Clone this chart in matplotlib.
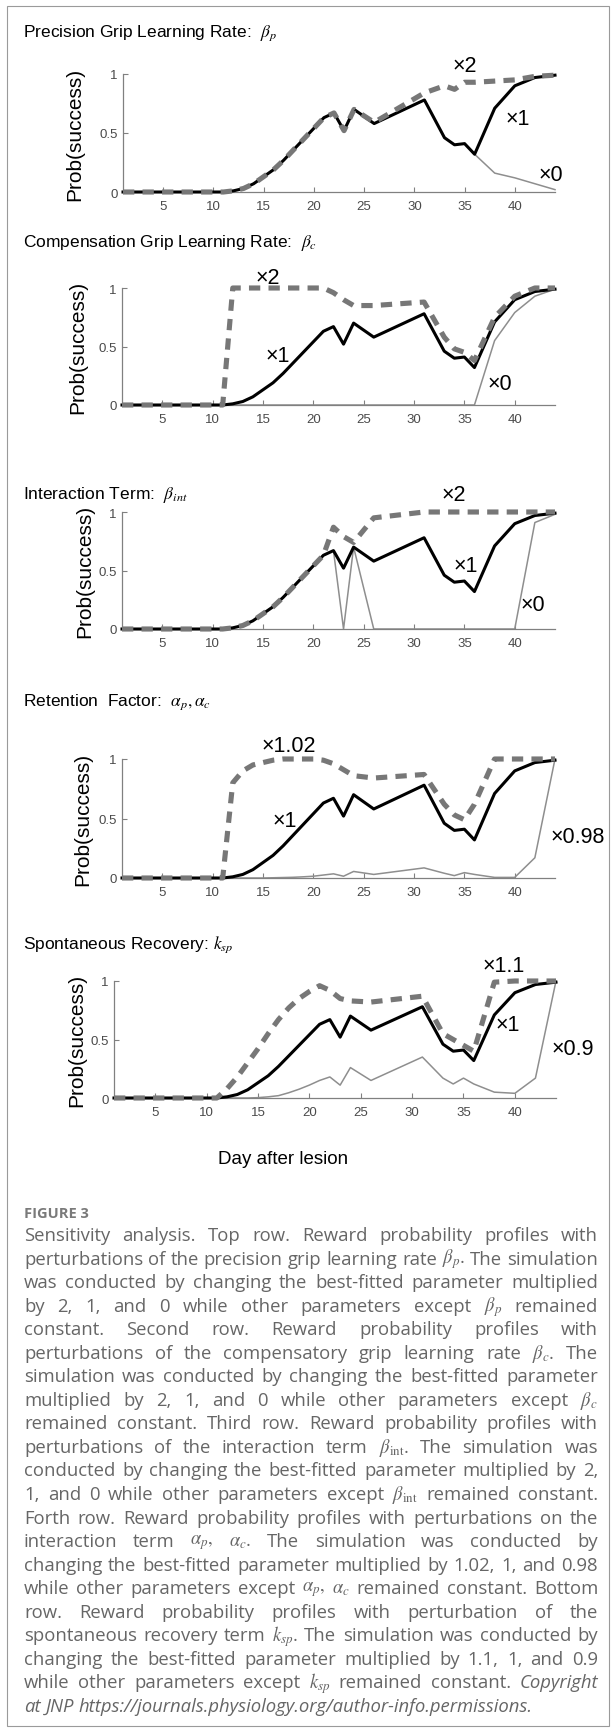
import matplotlib
matplotlib.use("Agg")
import matplotlib.pyplot as plt
from matplotlib.patches import Rectangle

plt.rcParams["font.family"] = ["Liberation Sans", "DejaVu Sans"]
plt.rcParams["mathtext.fontset"] = "stix"

# --- Data ---
days = [1, 2, 3, 4, 5, 6, 7, 8, 9, 10, 11, 12, 13, 14, 15, 16, 17, 18, 19, 20,
        21, 22, 23, 24, 26, 31, 33, 34, 35, 36, 38, 40, 42, 44]

fitted = [0, 0, 0, 0, 0, 0, 0, 0, 0, 0, 0, 0.01, 0.03, 0.07, 0.13, 0.19, 0.27,
          0.36, 0.45, 0.54, 0.63, 0.67, 0.52, 0.70, 0.58, 0.78, 0.46, 0.40,
          0.41, 0.32, 0.71, 0.90, 0.97, 0.99]

bp_high = [0, 0, 0, 0, 0, 0, 0, 0, 0, 0, 0, 0.01, 0.03, 0.07, 0.13, 0.19, 0.27,
           0.36, 0.45, 0.54, 0.63, 0.67, 0.52, 0.70, 0.59, 0.84, 0.90, 0.87,
           0.93, 0.93, 0.94, 0.95, 0.98, 0.99]
bp_low = [0, 0, 0, 0, 0, 0, 0, 0, 0, 0, 0, 0.01, 0.03, 0.07, 0.13, 0.19, 0.27,
          0.36, 0.45, 0.54, 0.63, 0.67, 0.52, 0.70, 0.58, 0.78, 0.46, 0.40,
          0.41, 0.32, 0.16, 0.12, 0.07, 0.02]

bc_high = [0, 0, 0, 0, 0, 0, 0, 0, 0, 0, 0, 1.0, 1.0, 1.0, 1.0, 1.0, 1.0, 1.0,
           1.0, 1.0, 1.0, 0.96, 0.90, 0.85, 0.85, 0.88, 0.58, 0.48, 0.45, 0.38,
           0.75, 0.93, 1.0, 1.0]
bc_low = [0, 0, 0, 0, 0, 0, 0, 0, 0, 0, 0, 0, 0, 0, 0, 0, 0, 0, 0, 0, 0, 0, 0,
          0, 0, 0, 0, 0, 0, 0, 0.55, 0.79, 0.93, 0.99]

bint_high = [0, 0, 0, 0, 0, 0, 0, 0, 0, 0, 0, 0.01, 0.03, 0.07, 0.13, 0.19,
             0.27, 0.36, 0.45, 0.54, 0.63, 0.87, 0.79, 0.74, 0.95, 1.0, 1.0,
             1.0, 1.0, 1.0, 1.0, 1.0, 1.0, 1.0]
bint_low = [0, 0, 0, 0, 0, 0, 0, 0, 0, 0, 0, 0.01, 0.03, 0.07, 0.13, 0.19, 0.27,
            0.36, 0.45, 0.54, 0.63, 0.67, 0.0, 0.70, 0.0, 0, 0, 0, 0, 0, 0, 0,
            0.91, 0.98]

alpha_high = [0, 0, 0, 0, 0, 0, 0, 0, 0, 0, 0, 0.80, 0.90, 0.95, 0.97, 0.99,
              1.0, 1.0, 1.0, 1.0, 0.99, 0.96, 0.91, 0.86, 0.84, 0.87, 0.62,
              0.53, 0.49, 0.62, 1.0, 1.0, 1.0, 1.0]
alpha_low = [0, 0, 0, 0, 0, 0, 0, 0, 0, 0, 0, 0, 0, 0, 0, 0.002, 0.004, 0.006,
             0.01, 0.015, 0.025, 0.035, 0.015, 0.055, 0.03, 0.085, 0.04, 0.02,
             0.045, 0.03, 0.005, 0.005, 0.17, 1.0]

ksp_high = [0, 0, 0, 0, 0, 0, 0, 0, 0, 0, 0, 0.08, 0.18, 0.30, 0.42, 0.55,
            0.67, 0.77, 0.85, 0.91, 0.96, 0.92, 0.85, 0.83, 0.82, 0.87, 0.55,
            0.50, 0.45, 0.40, 0.99, 1.0, 1.0, 1.0]
ksp_low = [0, 0, 0, 0, 0, 0, 0, 0, 0, 0, 0, 0, 0, 0, 0.003, 0.01, 0.02, 0.045,
           0.075, 0.11, 0.15, 0.18, 0.11, 0.26, 0.15, 0.35, 0.17, 0.12, 0.17,
           0.12, 0.05, 0.04, 0.17, 1.0]

titles = ["Precision Grip Learning Rate:  $\\beta_p$",
          "Compensation Grip Learning Rate:  $\\beta_c$",
          "Interaction Term:  $\\beta_{int}$",
          "Retention  Factor:  $\\alpha_p,\\alpha_c$",
          "Spontaneous Recovery: $k_{sp}$"]
high_curves = [bp_high, bc_high, bint_high, alpha_high, ksp_high]
low_curves = [bp_low, bc_low, bint_low, alpha_low, ksp_low]
high_tags = ["\u00d72", "\u00d72", "\u00d72", "\u00d71.02", "\u00d71.1"]
low_tags = ["\u00d70", "\u00d70", "\u00d70", "\u00d70.98", "\u00d70.9"]

xticks = [5, 10, 15, 20, 25, 30, 35, 40]
yticks = [0, 0.5, 1]
ytick_labels = ["0", "0.5", "1"]

caption_title = "FIGURE 3"
caption_lines = [
    "Sensitivity analysis. Top row. Reward probability profiles with",
    "perturbations of the precision grip learning rate $\\beta_p$. The simulation",
    "was conducted by changing the best-fitted parameter multiplied",
    "by 2, 1, and 0 while other parameters except $\\beta_p$ remained",
    "constant. Second row. Reward probability profiles with",
    "perturbations of the compensatory grip learning rate $\\beta_c$. The",
    "simulation was conducted by changing the best-fitted parameter",
    "multiplied by 2, 1, and 0 while other parameters except $\\beta_c$",
    "remained constant. Third row. Reward probability profiles with",
    "perturbations of the interaction term $\\beta_{\\mathrm{int}}$. The simulation was",
    "conducted by changing the best-fitted parameter multiplied by 2,",
    "1, and 0 while other parameters except $\\beta_{\\mathrm{int}}$ remained constant.",
    "Forth row. Reward probability profiles with perturbations on the",
    "interaction term $\\alpha_p,$ $\\alpha_c$. The simulation was conducted by",
    "changing the best-fitted parameter multiplied by 1.02, 1, and 0.98",
    "while other parameters except $\\alpha_p,$ $\\alpha_c$ remained constant. Bottom",
    "row. Reward probability profiles with perturbation of the",
    "spontaneous recovery term $k_{sp}$. The simulation was conducted by",
    "changing the best-fitted parameter multiplied by 1.1, 1, and 0.9",
    "while other parameters except $k_{sp}$ remained constant. Copyright",
    "at JNP https://journals.physiology.org/author-info.permissions.",
]
italic_words = {"Copyright", "at", "JNP",
                "https://journals.physiology.org/author-info.permissions."}

# --- Layout (pixels of the 614x1733 canvas) ---
W, H = 614, 1733
# left, y of 1, right, y of 0
axes_px = [(123, 75, 555, 193), (122, 289, 555, 406), (122, 513, 555, 630),
           (122, 760, 555, 879), (114, 982, 556, 1099)]
title_y = [33, 243, 495, 702, 945]
ylabel_x = [75, 78, 85, 83, 77]
high_pos = [(35.0, 1.07), (15.5, 1.09), (33.9, 1.15), (17.6, 1.11), (38.9, 1.13)]
one_pos = [(40.3, 0.62), (16.5, 0.42), (35.1, 0.54), (17.2, 0.48), (39.3, 0.63)]
low_pos = [(43.6, 0.15), (38.5, 0.18), (41.8, 0.21), (46.3, 0.35), (45.6, 0.42)]

AXIS_GRAY = "#808080"
DASH_GRAY = "#777777"
THIN_GRAY = "#8e8e8e"
CAP_GRAY = "#666666"
TAG_SIZE = 15.5

fig = plt.figure(figsize=(W / 100, H / 100), dpi=100)

# thin frame around the whole figure
fig.add_artist(Rectangle((7 / W, 1 - 1727 / H), 602 / W, 1720 / H,
                         transform=fig.transFigure, fill=False,
                         edgecolor="#9a9a9a", linewidth=0.8))

for i in range(5):
    l, t, r, b = axes_px[i]
    ax = fig.add_axes([l / W, 1 - b / H, (r - l) / W, (b - t) / H])
    ax.plot(days, low_curves[i], color=THIN_GRAY, lw=1.1, clip_on=False, zorder=2)
    ax.plot(days, fitted, color="black", lw=2.2, clip_on=False, zorder=3)
    ax.plot(days, high_curves[i], color=DASH_GRAY, lw=3.7, dashes=(2.2, 1.6),
            clip_on=False, zorder=4)
    ax.set_xlim(1, 44)
    ax.set_ylim(0, 1)
    ax.set_xticks(xticks)
    ax.set_yticks(yticks)
    ax.set_yticklabels(ytick_labels)
    for s in ["top", "right"]:
        ax.spines[s].set_visible(False)
    for s in ["left", "bottom"]:
        ax.spines[s].set_color(AXIS_GRAY)
        ax.spines[s].set_linewidth(0.9)
    ax.tick_params(direction="in", length=3.5, width=0.8, color=AXIS_GRAY,
                   labelcolor="#4a4a4a", labelsize=9.5)
    ax.tick_params(axis="x", pad=6)
    ax.tick_params(axis="y", pad=4)
    ax.patch.set_alpha(0)

    ax.text(*high_pos[i], high_tags[i], fontsize=TAG_SIZE, ha="center", va="center")
    ax.text(*one_pos[i], "\u00d71", fontsize=TAG_SIZE, ha="center", va="center")
    ax.text(*low_pos[i], low_tags[i], fontsize=TAG_SIZE, ha="center", va="center",
            clip_on=False)

    fig.text(23 / W, 1 - title_y[i] / H, titles[i], fontsize=12.5, va="center")
    fig.text(ylabel_x[i] / W, 1 - (t + b) / 2 / H, "Prob(success)",
             fontsize=15, rotation=90, ha="center", va="center")

fig.text(283 / W, 1 - 1160 / H, "Day after lesion", fontsize=13.5,
         ha="center", va="center")

# --- Caption, justified line by line ---
fig.text(24 / W, 1 - 1214 / H, caption_title, fontsize=10.5, fontweight="bold",
         color="#7a7a7a", va="center", family="Open Sans")

renderer = fig.canvas.get_renderer()
x_left, x_right = 24, 598


def word_art(w, y, size):
    style = "italic" if w in italic_words else "normal"
    return fig.text(0, y, w, fontsize=size, color=CAP_GRAY, va="center",
                    family="Open Sans", style=style)


# pick the size at which the widest full line just fits with normal spaces
probe = 10
space_em = 0.26
ratios = []
for line in caption_lines[:-1]:
    arts = [word_art(w, 0, probe) for w in line.split(" ")]
    total = sum(a.get_window_extent(renderer).width for a in arts)
    total += (len(arts) - 1) * renderer.points_to_pixels(probe) * space_em
    ratios.append((x_right - x_left) / total)
    for a in arts:
        a.remove()
cap_size = probe * min(ratios)

for k, line in enumerate(caption_lines):
    y = 1 - (1236 + k * 23.55) / H
    words = line.split(" ")
    arts = [word_art(w, y, cap_size) for w in words]
    widths = [a.get_window_extent(renderer).width for a in arts]
    if k == len(caption_lines) - 1:
        gap = renderer.points_to_pixels(cap_size) * space_em
    else:
        gap = (x_right - x_left - sum(widths)) / (len(words) - 1)
    x = x_left
    for a, w in zip(arts, widths):
        a.set_x(x / W)
        x += w + gap

fig.savefig("out.png", dpi=100)
